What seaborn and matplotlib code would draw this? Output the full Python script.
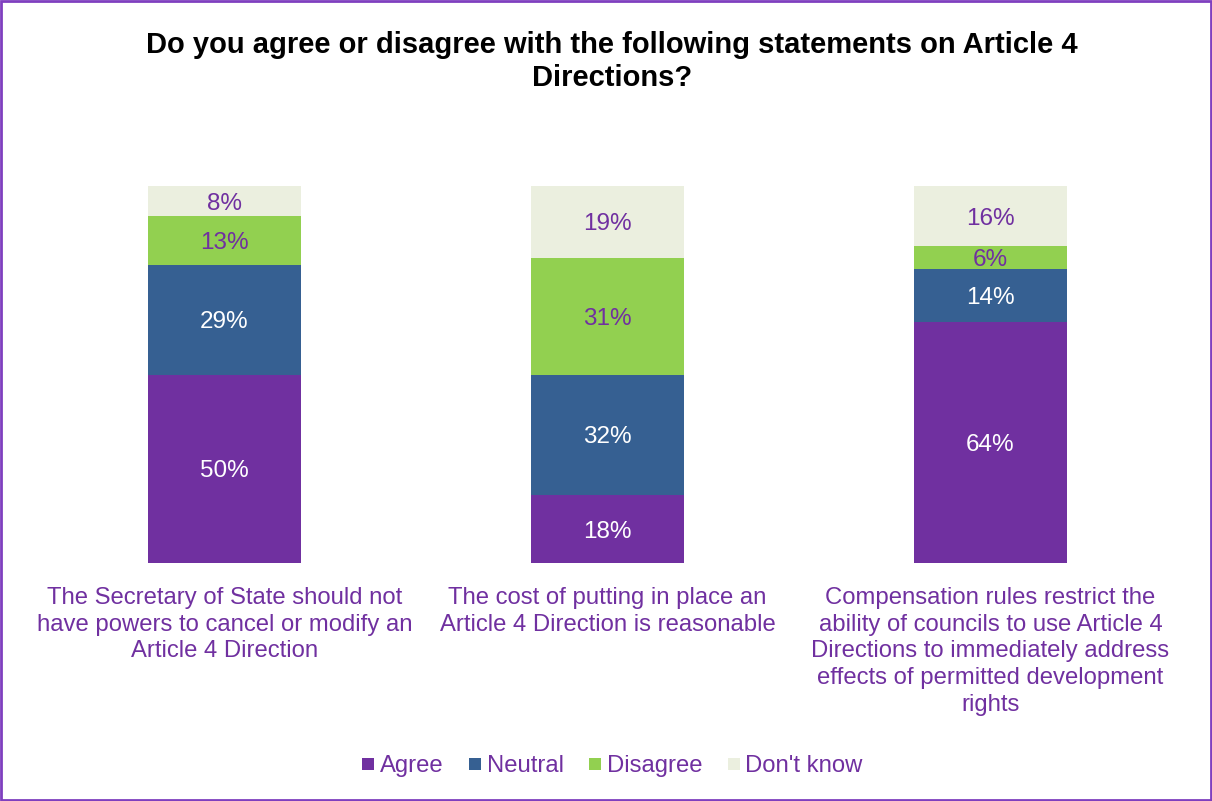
import numpy as np
import pandas as pd
import matplotlib
matplotlib.use("Agg")
import matplotlib.pyplot as plt
from matplotlib.lines import Line2D
from matplotlib.patches import Rectangle
import seaborn as sns

# Survey statements (x categories) and response shares in percent
statements = [
    "The Secretary of State should not\nhave powers to cancel or modify an\nArticle 4 Direction",
    "The cost of putting in place an\nArticle 4 Direction is reasonable",
    "Compensation rules restrict the\nability of councils to use Article 4\nDirections to immediately address\neffects of permitted development\nrights",
]
responses = ["Agree", "Neutral", "Disagree", "Don't know"]
agree = [50, 18, 64]
neutral = [29, 32, 14]
disagree = [13, 31, 6]
dont_know = [8, 19, 16]

colors = {"Agree": "#7030A0", "Neutral": "#366092",
          "Disagree": "#92D050", "Don't know": "#EBEFDF"}
label_colors = {"Agree": "white", "Neutral": "white",
                "Disagree": "#7030A0", "Don't know": "#7030A0"}
purple = "#7030A0"

sns.set_theme(style="white")
plt.rcParams["font.family"] = ["Liberation Sans", "DejaVu Sans"]

series = [agree, neutral, disagree, dont_know]
df = pd.DataFrame({"statement": statements})
for name, vals in zip(responses, series):
    df[name] = vals
cum = df[responses].cumsum(axis=1)

fig = plt.figure(figsize=(12.12, 8.01), dpi=100)
ax = fig.add_axes([33 / 1212, 1 - 563 / 801, 1149 / 1212, 377 / 801])

# Stacked bars: draw cumulative totals from the top segment down
for name in reversed(responses):
    sns.barplot(x=df["statement"], y=cum[name], order=statements,
                color=colors[name], width=0.4, saturation=1,
                linewidth=0, ax=ax)

# Segment value labels
for i in range(len(statements)):
    base = 0
    for name in responses:
        v = df.loc[i, name]
        ax.text(i, base + v / 2, f"{v}%", ha="center", va="center_baseline",
                color=label_colors[name], fontsize=17.5)
        base += v

ax.set_xlim(-0.5, 2.5)
ax.set_ylim(0, 100)
ax.set_xlabel("")
ax.set_ylabel("")
ax.set_yticks([])
ax.tick_params(axis="x", length=0, pad=17, labelsize=17.2, labelcolor=purple)
for lbl in ax.get_xticklabels():
    lbl.set_linespacing(1.29)
    lbl.set_verticalalignment("top")
for s in ax.spines.values():
    s.set_visible(False)

fig.text(0.505, 1 - 31 / 801,
         "Do you agree or disagree with the following statements on Article 4\nDirections?",
         ha="center", va="top", fontsize=21, fontweight="bold",
         color="black", linespacing=1.22)

handles = [Line2D([], [], marker="s", linestyle="none", markersize=8,
                  markerfacecolor=colors[n], markeredgewidth=0)
           for n in responses]
leg = fig.legend(handles, responses, loc="center", ncol=4,
                 bbox_to_anchor=(0.504, 1 - 766 / 801), frameon=False,
                 fontsize=17.2, handletextpad=0.1, columnspacing=0.9,
                 handlelength=0.8)
for t in leg.get_texts():
    t.set_color(purple)

fig.patches.append(Rectangle((0.001, 0.001), 0.998, 0.998,
                             transform=fig.transFigure, fill=False,
                             edgecolor="#7F3FBF", linewidth=2))

fig.savefig("out.png", dpi=100)
